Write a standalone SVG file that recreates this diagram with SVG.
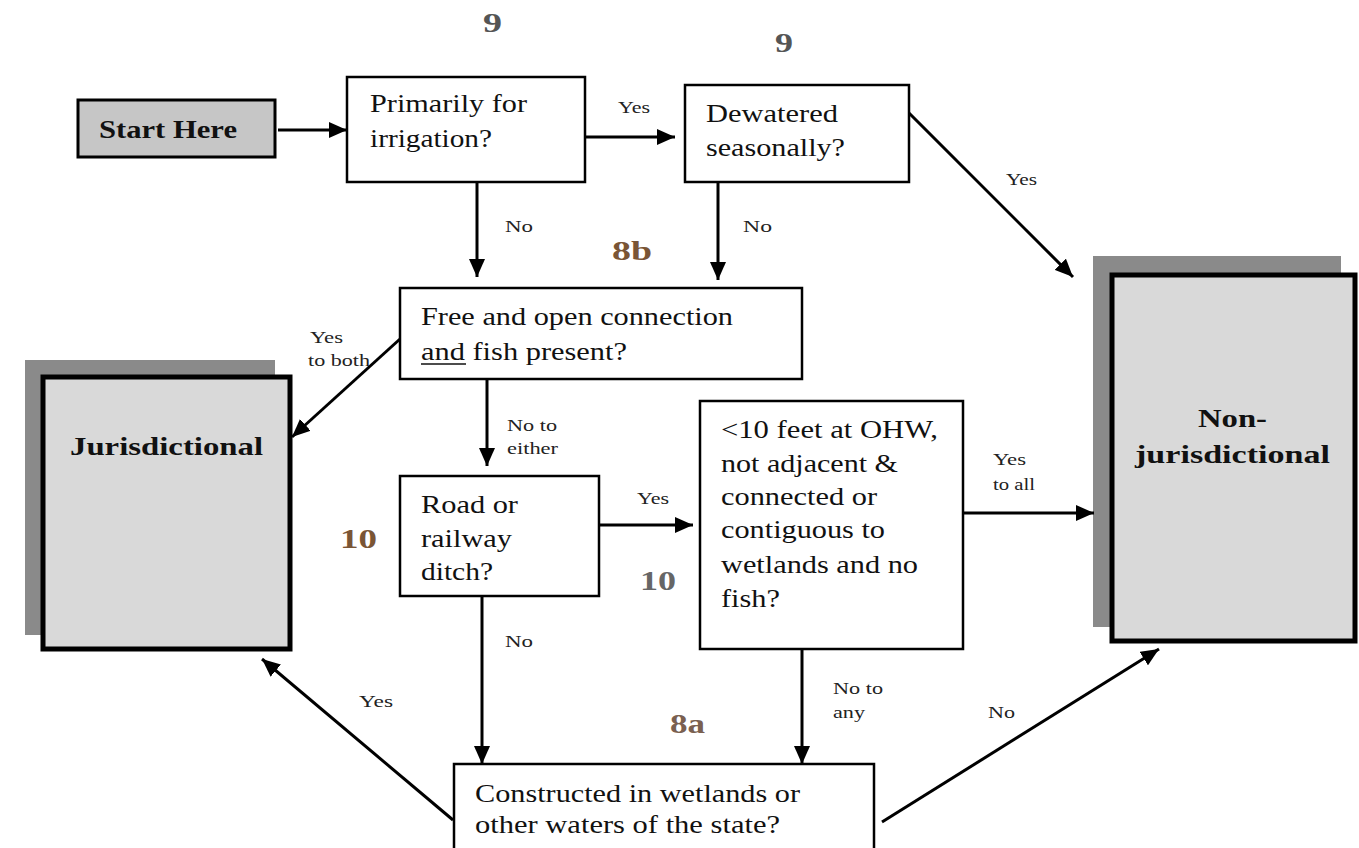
<svg xmlns="http://www.w3.org/2000/svg" width="1359" height="848" viewBox="0 0 1359 848">
<defs>
<marker id="ah" markerUnits="userSpaceOnUse" markerWidth="20" markerHeight="16" refX="18" refY="8" orient="auto">
<path d="M0,0 L18,8 L0,16 Z" fill="#000"/>
</marker>
<style>
.q{fill:#fff;stroke:#000;stroke-width:2.5}
.t{font-family:"Liberation Serif",serif;font-size:25px;fill:#111}
.l{font-family:"Liberation Serif",serif;font-size:16px;fill:#222}
.n{font-family:"Liberation Serif",serif;font-size:28px;font-weight:bold}
.b{font-family:"Liberation Serif",serif;font-size:26px;font-weight:bold;fill:#111}
.term{fill:#d9d9d9;stroke:#000;stroke-width:5}
.shadow{fill:#8a8a8a}
.c{fill:none;stroke:#000;stroke-width:3;marker-end:url(#ah)}
</style>
</defs>
<rect width="1359" height="848" fill="#fff"/>

<g id="start">
<rect x="78" y="100" width="197" height="57" fill="#c6c6c6" stroke="#000" stroke-width="3"/>
<text class="b" x="99" y="138" font-size="24" textLength="138" lengthAdjust="spacingAndGlyphs">Start Here</text>
</g>

<g id="irrigation">
<rect class="q" x="347" y="77" width="238" height="105"/>
<text class="t" x="370" y="112" textLength="157" lengthAdjust="spacingAndGlyphs">Primarily for</text>
<text class="t" x="370" y="147" textLength="122" lengthAdjust="spacingAndGlyphs">irrigation?</text>
</g>

<g id="dewatered">
<rect class="q" x="685" y="85" width="224" height="97" stroke-width="3"/>
<text class="t" x="706" y="122" textLength="132" lengthAdjust="spacingAndGlyphs">Dewatered</text>
<text class="t" x="706" y="156" textLength="139" lengthAdjust="spacingAndGlyphs">seasonally?</text>
</g>

<g id="free">
<rect class="q" x="400" y="288" width="402" height="91"/>
<text class="t" x="421" y="325" textLength="312" lengthAdjust="spacingAndGlyphs">Free and open connection</text>
<text class="t" x="421" y="360" textLength="206" lengthAdjust="spacingAndGlyphs">and fish present?</text>
<line x1="421" y1="364" x2="466" y2="364" stroke="#111" stroke-width="1.5"/>
</g>

<g id="road">
<rect class="q" x="400" y="476" width="199" height="120"/>
<text class="t" x="421" y="513" textLength="97" lengthAdjust="spacingAndGlyphs">Road or</text>
<text class="t" x="421" y="547" textLength="91" lengthAdjust="spacingAndGlyphs">railway</text>
<text class="t" x="421" y="580" textLength="72" lengthAdjust="spacingAndGlyphs">ditch?</text>
</g>

<g id="ohw">
<rect class="q" x="700" y="401" width="263" height="248"/>
<text class="t" x="721" y="438" textLength="217" lengthAdjust="spacingAndGlyphs">&lt;10 feet at OHW,</text>
<text class="t" x="721" y="472" textLength="177" lengthAdjust="spacingAndGlyphs">not adjacent &amp;</text>
<text class="t" x="721" y="505" textLength="156" lengthAdjust="spacingAndGlyphs">connected or</text>
<text class="t" x="721" y="538" textLength="164" lengthAdjust="spacingAndGlyphs">contiguous to</text>
<text class="t" x="721" y="573" textLength="197" lengthAdjust="spacingAndGlyphs">wetlands and no</text>
<text class="t" x="721" y="607" textLength="59" lengthAdjust="spacingAndGlyphs">fish?</text>
</g>

<g id="constructed">
<rect class="q" x="454" y="764" width="420" height="100"/>
<text class="t" x="475" y="802" textLength="325" lengthAdjust="spacingAndGlyphs">Constructed in wetlands or</text>
<text class="t" x="475" y="833" textLength="305" lengthAdjust="spacingAndGlyphs">other waters of the state?</text>
</g>

<g id="jurisdictional">
<rect class="shadow" x="25" y="360" width="250" height="275"/>
<rect class="term" x="43" y="377" width="247" height="272"/>
<text class="b" x="70" y="455" textLength="193" lengthAdjust="spacingAndGlyphs">Jurisdictional</text>
</g>

<g id="nonjurisdictional">
<rect class="shadow" x="1093" y="256" width="248" height="371"/>
<rect class="term" x="1112" y="275" width="243" height="366"/>
<text class="b" x="1198" y="427" textLength="69" lengthAdjust="spacingAndGlyphs">Non-</text>
<text class="b" x="1135" y="463" textLength="195" lengthAdjust="spacingAndGlyphs">jurisdictional</text>
</g>

<g id="connectors">
<line class="c" x1="278" y1="130" x2="347" y2="130"/>
<line class="c" x1="585" y1="137" x2="675" y2="137"/>
<line class="c" x1="909" y1="113" x2="1073" y2="277"/>
<line class="c" x1="477" y1="182" x2="477" y2="277"/>
<line class="c" x1="718" y1="182" x2="718" y2="280"/>
<line class="c" x1="400" y1="339" x2="292" y2="437"/>
<line class="c" x1="487" y1="379" x2="487" y2="466"/>
<line class="c" x1="599" y1="525" x2="693" y2="525"/>
<line class="c" x1="963" y1="513" x2="1094" y2="513"/>
<line class="c" x1="482" y1="596" x2="482" y2="764"/>
<line class="c" x1="802" y1="649" x2="802" y2="764"/>
<line class="c" x1="453" y1="820" x2="262" y2="659"/>
<line class="c" x1="882" y1="822" x2="1159" y2="649"/>
</g>

<g id="labels">
<text class="l" x="618" y="113" textLength="32" lengthAdjust="spacingAndGlyphs">Yes</text>
<text class="l" x="505" y="232" textLength="28" lengthAdjust="spacingAndGlyphs">No</text>
<text class="l" x="743" y="232" textLength="29" lengthAdjust="spacingAndGlyphs">No</text>
<text class="l" x="1006" y="185" textLength="31" lengthAdjust="spacingAndGlyphs">Yes</text>
<text class="l" x="310" y="343" textLength="33" lengthAdjust="spacingAndGlyphs">Yes</text>
<text class="l" x="308" y="366" textLength="62" lengthAdjust="spacingAndGlyphs">to both</text>
<text class="l" x="507" y="431" textLength="50" lengthAdjust="spacingAndGlyphs">No to</text>
<text class="l" x="507" y="454" textLength="51" lengthAdjust="spacingAndGlyphs">either</text>
<text class="l" x="637" y="504" textLength="32" lengthAdjust="spacingAndGlyphs">Yes</text>
<text class="l" x="505" y="647" textLength="28" lengthAdjust="spacingAndGlyphs">No</text>
<text class="l" x="993" y="465" textLength="33" lengthAdjust="spacingAndGlyphs">Yes</text>
<text class="l" x="993" y="490" textLength="42" lengthAdjust="spacingAndGlyphs">to all</text>
<text class="l" x="833" y="694" textLength="50" lengthAdjust="spacingAndGlyphs">No to</text>
<text class="l" x="833" y="718" textLength="32" lengthAdjust="spacingAndGlyphs">any</text>
<text class="l" x="359" y="707" textLength="34" lengthAdjust="spacingAndGlyphs">Yes</text>
<text class="l" x="988" y="718" textLength="27" lengthAdjust="spacingAndGlyphs">No</text>
</g>

<g id="numbers">
<text class="n" x="483" y="32" fill="#555" textLength="19" lengthAdjust="spacingAndGlyphs">9</text>
<text class="n" x="775" y="52" fill="#555" textLength="18" lengthAdjust="spacingAndGlyphs">9</text>
<text class="n" x="612" y="260" fill="#7a5535" textLength="40" lengthAdjust="spacingAndGlyphs">8b</text>
<text class="n" x="340" y="548" fill="#7a5535" textLength="37" lengthAdjust="spacingAndGlyphs">10</text>
<text class="n" x="640" y="590" fill="#666" textLength="36" lengthAdjust="spacingAndGlyphs">10</text>
<text class="n" x="670" y="733" fill="#7a6050" textLength="35" lengthAdjust="spacingAndGlyphs">8a</text>
</g>
</svg>
